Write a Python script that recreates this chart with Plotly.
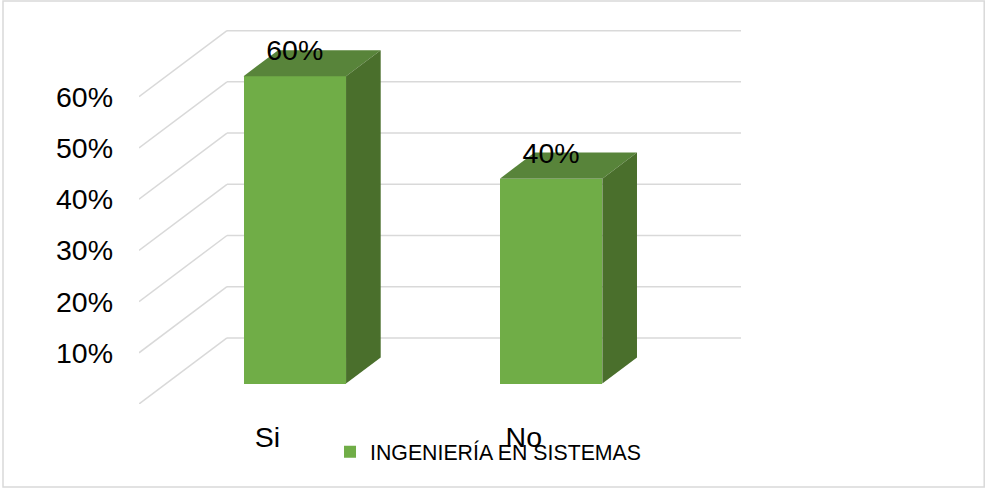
import plotly.graph_objects as go

categories = ["Si", "No"]
values = [60, 40]
series_name = "INGENIERÍA EN SISTEMAS"
tick_values = [10, 20, 30, 40, 50, 60]
grid_values = [0, 10, 20, 30, 40, 50, 60]

FRONT, TOP, SIDE, GRID = "#70ad47", "#58843a", "#4a6f2c", "#d9d9d9"
FONT = "Liberation Sans, Arial, sans-serif"

# oblique projection: one full floor depth moves this far in axis units
depth_x, depth_y = 0.3433, 12.9
d_front, d_back = 0.31, 0.704
bar_w = 0.40
label_drop = 0.6
xs = list(range(len(categories)))

fig = go.Figure()
fig.add_trace(go.Bar(
    x=[i + d_front * depth_x for i in xs], y=values, base=d_front * depth_y, width=bar_w,
    marker=dict(color=FRONT, line=dict(width=0)), name=series_name, showlegend=True,
    hoverinfo="skip",
))
for i, v in zip(xs, values):
    xl = i + d_front * depth_x - bar_w / 2
    xr = xl + bar_w
    dx = (d_back - d_front) * depth_x
    yb = d_front * depth_y
    yt = yb + v
    dy = (d_back - d_front) * depth_y
    fig.add_trace(go.Scatter(x=[xl, xr, xr + dx, xl + dx, xl], y=[yt, yt, yt + dy, yt + dy, yt],
                             fill="toself", fillcolor=TOP, mode="none", showlegend=False, hoverinfo="skip"))
    fig.add_trace(go.Scatter(x=[xr, xr + dx, xr + dx, xr, xr], y=[yb, yb + dy, yt + dy, yt, yb],
                             fill="toself", fillcolor=SIDE, mode="none", showlegend=False, hoverinfo="skip"))
fig.add_trace(go.Scatter(
    x=[i + d_front * depth_x for i in xs], y=[v + d_back * depth_y - label_drop for v in values],
    text=[f"{v}%" for v in values], mode="text", textposition="middle center",
    textfont=dict(family=FONT, size=28.5, color="#000000"), showlegend=False, hoverinfo="skip",
))

x_min, x_max = -0.5014, 1.8475
shapes = []
for g in grid_values:
    shapes.append(dict(type="line", layer="below", xref="x", yref="y",
                       x0=x_min, y0=g, x1=x_min + depth_x, y1=g + depth_y,
                       line=dict(color=GRID, width=1.5)))
    shapes.append(dict(type="line", layer="below", xref="x", yref="y",
                       x0=x_min + depth_x, y0=g + depth_y, x1=x_max, y1=g + depth_y,
                       line=dict(color=GRID, width=1.5)))
# chart frame
shapes.append(dict(type="rect", layer="below", xref="paper", yref="paper",
                   x0=-0.2259, x1=1.404, y0=-0.219, y1=1.063,
                   line=dict(color=GRID, width=1.5), fillcolor="rgba(0,0,0,0)"))

fig.update_layout(
    width=985, height=488,
    margin=dict(l=139, r=244, t=25, b=84),
    paper_bgcolor="white", plot_bgcolor="rgba(0,0,0,0)",
    shapes=shapes, bargap=0,
    xaxis=dict(range=[x_min, x_max], tickmode="array", tickvals=xs, ticktext=categories,
               showgrid=False, zeroline=False, showline=False, ticks="",
               ticklabelstandoff=13, tickfont=dict(family=FONT, size=28.5, color="#000000")),
    yaxis=dict(range=[0, 74], tickmode="array", tickvals=tick_values,
               ticktext=[f"{t}%" for t in tick_values],
               showgrid=False, zeroline=False, showline=False, ticks="",
               ticklabelstandoff=25, tickfont=dict(family=FONT, size=28.5, color="#000000")),
    legend=dict(x=0.3173, y=-0.1266, xanchor="left", yanchor="middle", orientation="h",
                bgcolor="rgba(0,0,0,0)",
                font=dict(family=FONT, size=21.3, color="#000000")),
    showlegend=True,
)
fig.write_html("out.html", post_script="document.body.style.margin='0';",
               config={"displayModeBar": False})
